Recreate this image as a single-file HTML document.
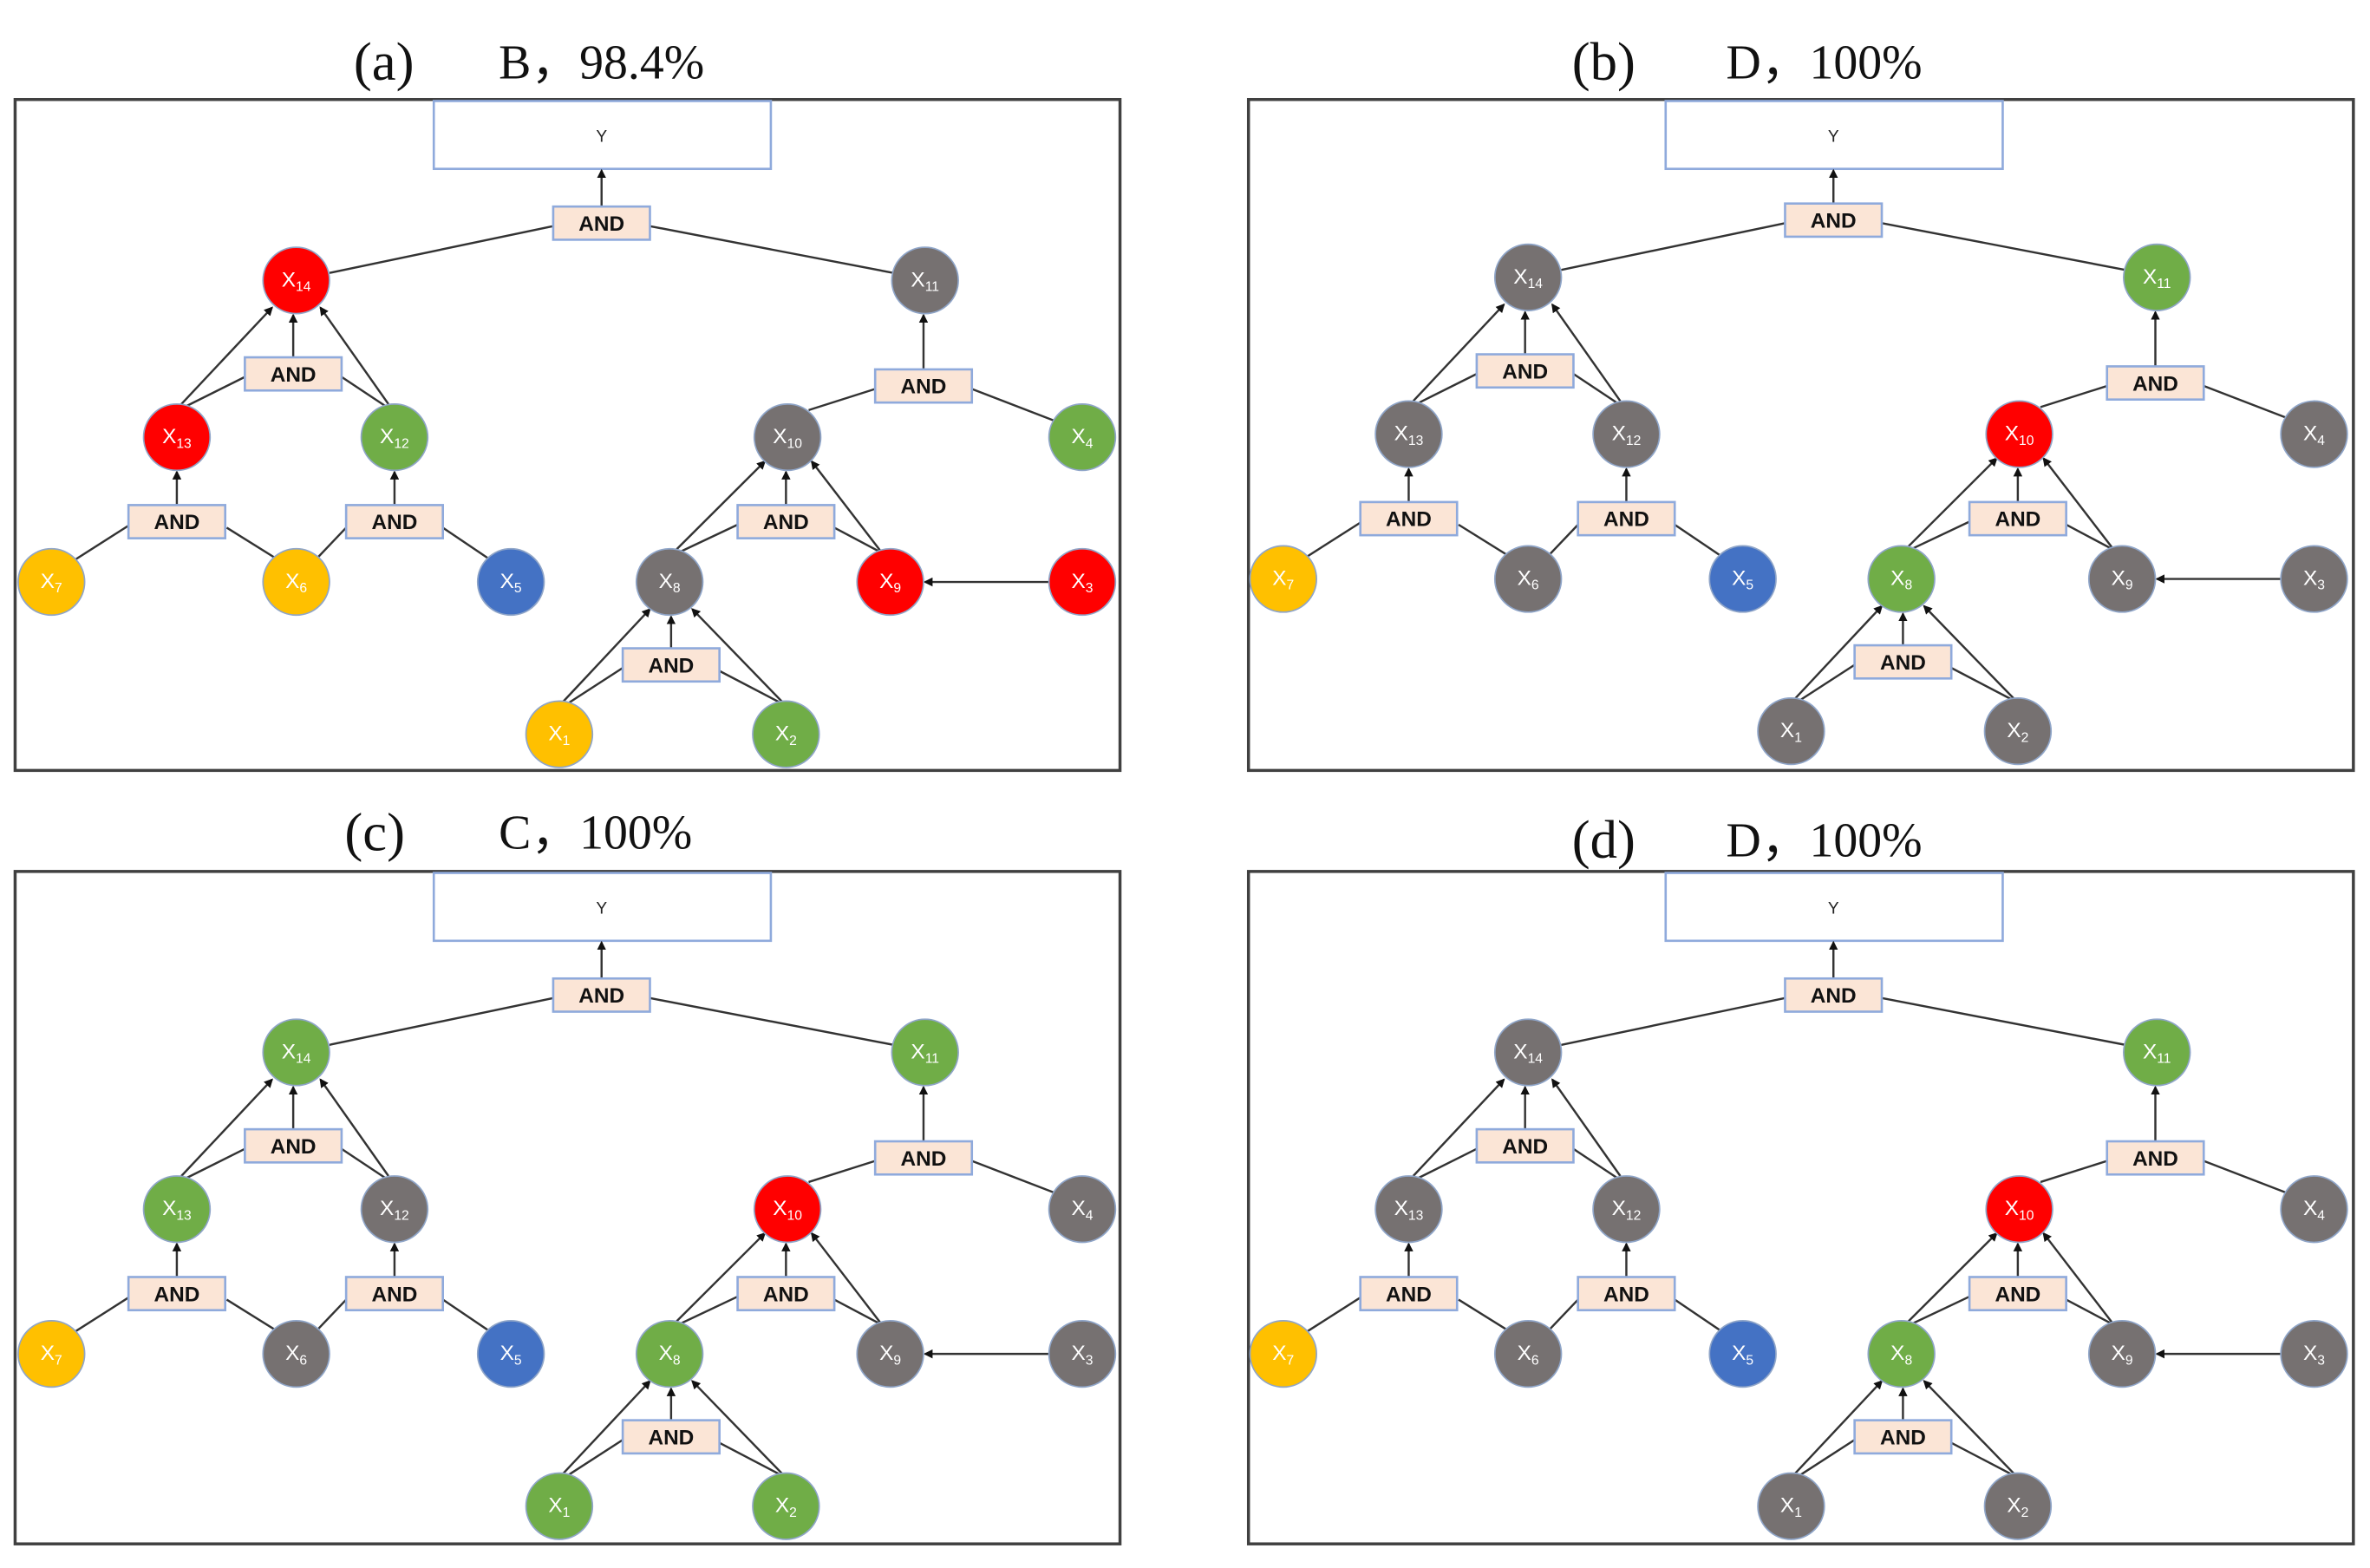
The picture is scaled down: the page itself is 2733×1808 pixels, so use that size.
<!DOCTYPE html>
<html><head><meta charset="utf-8"><style>
html,body{margin:0;padding:0;background:#fff;width:2733px;height:1808px;overflow:hidden}
svg{display:block}
.fr{fill:none;stroke:#404040;stroke-width:2}
.yb{fill:#fff;stroke:#8faadc;stroke-width:1.5}
.ab{fill:#fbe5d6;stroke:#8faadc;stroke-width:1.5}
.at{font:bold 14px "Liberation Sans",sans-serif;fill:#111;text-anchor:middle}
.yt{font:11px "Liberation Sans",sans-serif;fill:#222;text-anchor:middle}
.ln{stroke:#333;stroke-width:1.4;fill:none}
.ar{stroke:#333;stroke-width:1.4;fill:none;marker-end:url(#m)}
.r{fill:#ff0000}.g{fill:#767171}.gr{fill:#70ad47}.y{fill:#ffc000}.b{fill:#4472c4}
circle{stroke:#8fa5c8;stroke-width:1}
.nt{font:14px "Liberation Sans",sans-serif;fill:#fff;text-anchor:middle}
.nt tspan{font-size:9px}
.tt{font:36px "Liberation Serif",serif;fill:#111}
.ts{font:32px "Liberation Serif",serif;fill:#111}
</style></head><body>
<svg width="2733" height="1808" viewBox="0 0 1568 1040" preserveAspectRatio="none" xmlns="http://www.w3.org/2000/svg">
<defs><marker id="m" markerWidth="6" markerHeight="6" refX="5" refY="3" orient="auto" markerUnits="userSpaceOnUse"><path d="M0,0 L6,3 L0,6 z" fill="#111"/></marker></defs>

<text class="tt" x="234" y="53">(a)</text><text class="ts" x="330" y="52">B，98.4%</text>
<text class="tt" x="1040" y="53">(b)</text><text class="ts" x="1142" y="52">D，100%</text>
<text class="tt" x="228" y="564">(c)</text><text class="ts" x="330" y="563">C，100%</text>
<text class="tt" x="1040" y="569">(d)</text><text class="ts" x="1142" y="568">D，100%</text>

<g transform="translate(0,0)">
<rect class="fr" x="10" y="66" width="731" height="445"/>
<rect class="yb" x="287" y="67" width="223" height="45"/><text class="yt" x="398" y="94">Y</text>
<line class="ln" x1="218" y1="181" x2="366" y2="150"/><line class="ln" x1="430" y1="150" x2="591" y2="181"/>
<line class="ln" x1="162" y1="250" x2="122" y2="270"/><line class="ln" x1="226" y1="250" x2="256" y2="270"/>
<line class="ln" x1="50" y1="371" x2="86" y2="348"/><line class="ln" x1="150" y1="350" x2="182" y2="370"/>
<line class="ln" x1="229" y1="350" x2="210" y2="370"/><line class="ln" x1="293" y1="350" x2="324" y2="371"/>
<line class="ln" x1="579" y1="258" x2="535" y2="272"/><line class="ln" x1="643" y1="258" x2="700" y2="280"/>
<line class="ln" x1="488" y1="348" x2="450" y2="366"/><line class="ln" x1="552" y1="350" x2="584" y2="367"/>
<line class="ln" x1="412" y1="443" x2="375" y2="467"/><line class="ln" x1="476" y1="445" x2="518" y2="467"/>
<line class="ar" x1="398" y1="137" x2="398" y2="113"/><line class="ar" x1="194" y1="237" x2="194" y2="209"/>
<line class="ar" x1="120" y1="268" x2="180" y2="204"/><line class="ar" x1="257" y1="268" x2="212" y2="204"/>
<line class="ar" x1="117" y1="335" x2="117" y2="313"/><line class="ar" x1="261" y1="335" x2="261" y2="313"/>
<line class="ar" x1="611" y1="245" x2="611" y2="209"/><line class="ar" x1="520" y1="335" x2="520" y2="313"/>
<line class="ar" x1="446" y1="366" x2="506" y2="306"/><line class="ar" x1="583" y1="366" x2="537" y2="306"/>
<line class="ar" x1="694" y1="386" x2="612" y2="386"/><line class="ar" x1="444" y1="430" x2="444" y2="409"/>
<line class="ar" x1="372" y1="466" x2="430" y2="404"/><line class="ar" x1="518" y1="466" x2="458" y2="404"/>
<rect class="ab" x="366" y="137" width="64" height="22"/><text class="at" x="398" y="153">AND</text>
<rect class="ab" x="162" y="237" width="64" height="22"/><text class="at" x="194" y="253">AND</text>
<rect class="ab" x="579" y="245" width="64" height="22"/><text class="at" x="611" y="261">AND</text>
<rect class="ab" x="85" y="335" width="64" height="22"/><text class="at" x="117" y="351">AND</text>
<rect class="ab" x="229" y="335" width="64" height="22"/><text class="at" x="261" y="351">AND</text>
<rect class="ab" x="488" y="335" width="64" height="22"/><text class="at" x="520" y="351">AND</text>
<rect class="ab" x="412" y="430" width="64" height="22"/><text class="at" x="444" y="446">AND</text>
<circle class="r" cx="196" cy="186" r="22"/><text class="nt" x="196" y="190">X<tspan dy="3">14</tspan></text>
<circle class="g" cx="612" cy="186" r="22"/><text class="nt" x="612" y="190">X<tspan dy="3">11</tspan></text>
<circle class="r" cx="117" cy="290" r="22"/><text class="nt" x="117" y="294">X<tspan dy="3">13</tspan></text>
<circle class="gr" cx="261" cy="290" r="22"/><text class="nt" x="261" y="294">X<tspan dy="3">12</tspan></text>
<circle class="g" cx="521" cy="290" r="22"/><text class="nt" x="521" y="294">X<tspan dy="3">10</tspan></text>
<circle class="gr" cx="716" cy="290" r="22"/><text class="nt" x="716" y="294">X<tspan dy="3">4</tspan></text>
<circle class="y" cx="34" cy="386" r="22"/><text class="nt" x="34" y="390">X<tspan dy="3">7</tspan></text>
<circle class="y" cx="196" cy="386" r="22"/><text class="nt" x="196" y="390">X<tspan dy="3">6</tspan></text>
<circle class="b" cx="338" cy="386" r="22"/><text class="nt" x="338" y="390">X<tspan dy="3">5</tspan></text>
<circle class="g" cx="443" cy="386" r="22"/><text class="nt" x="443" y="390">X<tspan dy="3">8</tspan></text>
<circle class="r" cx="589" cy="386" r="22"/><text class="nt" x="589" y="390">X<tspan dy="3">9</tspan></text>
<circle class="r" cx="716" cy="386" r="22"/><text class="nt" x="716" y="390">X<tspan dy="3">3</tspan></text>
<circle class="y" cx="370" cy="487" r="22"/><text class="nt" x="370" y="491">X<tspan dy="3">1</tspan></text>
<circle class="gr" cx="520" cy="487" r="22"/><text class="nt" x="520" y="491">X<tspan dy="3">2</tspan></text>
</g>

<g transform="translate(815,-2)">
<rect class="fr" x="11" y="68" width="731" height="445"/>
<rect class="yb" x="287" y="69" width="223" height="45"/><text class="yt" x="398" y="96">Y</text>
<line class="ln" x1="218" y1="181" x2="366" y2="150"/><line class="ln" x1="430" y1="150" x2="591" y2="181"/>
<line class="ln" x1="162" y1="250" x2="122" y2="270"/><line class="ln" x1="226" y1="250" x2="256" y2="270"/>
<line class="ln" x1="50" y1="371" x2="86" y2="348"/><line class="ln" x1="150" y1="350" x2="182" y2="370"/>
<line class="ln" x1="229" y1="350" x2="210" y2="370"/><line class="ln" x1="293" y1="350" x2="324" y2="371"/>
<line class="ln" x1="579" y1="258" x2="535" y2="272"/><line class="ln" x1="643" y1="258" x2="700" y2="280"/>
<line class="ln" x1="488" y1="348" x2="450" y2="366"/><line class="ln" x1="552" y1="350" x2="584" y2="367"/>
<line class="ln" x1="412" y1="443" x2="375" y2="467"/><line class="ln" x1="476" y1="445" x2="518" y2="467"/>
<line class="ar" x1="398" y1="137" x2="398" y2="115"/><line class="ar" x1="194" y1="237" x2="194" y2="209"/>
<line class="ar" x1="120" y1="268" x2="180" y2="204"/><line class="ar" x1="257" y1="268" x2="212" y2="204"/>
<line class="ar" x1="117" y1="335" x2="117" y2="313"/><line class="ar" x1="261" y1="335" x2="261" y2="313"/>
<line class="ar" x1="611" y1="245" x2="611" y2="209"/><line class="ar" x1="520" y1="335" x2="520" y2="313"/>
<line class="ar" x1="446" y1="366" x2="506" y2="306"/><line class="ar" x1="583" y1="366" x2="537" y2="306"/>
<line class="ar" x1="694" y1="386" x2="612" y2="386"/><line class="ar" x1="444" y1="430" x2="444" y2="409"/>
<line class="ar" x1="372" y1="466" x2="430" y2="404"/><line class="ar" x1="518" y1="466" x2="458" y2="404"/>
<rect class="ab" x="366" y="137" width="64" height="22"/><text class="at" x="398" y="153">AND</text>
<rect class="ab" x="162" y="237" width="64" height="22"/><text class="at" x="194" y="253">AND</text>
<rect class="ab" x="579" y="245" width="64" height="22"/><text class="at" x="611" y="261">AND</text>
<rect class="ab" x="85" y="335" width="64" height="22"/><text class="at" x="117" y="351">AND</text>
<rect class="ab" x="229" y="335" width="64" height="22"/><text class="at" x="261" y="351">AND</text>
<rect class="ab" x="488" y="335" width="64" height="22"/><text class="at" x="520" y="351">AND</text>
<rect class="ab" x="412" y="430" width="64" height="22"/><text class="at" x="444" y="446">AND</text>
<circle class="g" cx="196" cy="186" r="22"/><text class="nt" x="196" y="190">X<tspan dy="3">14</tspan></text>
<circle class="gr" cx="612" cy="186" r="22"/><text class="nt" x="612" y="190">X<tspan dy="3">11</tspan></text>
<circle class="g" cx="117" cy="290" r="22"/><text class="nt" x="117" y="294">X<tspan dy="3">13</tspan></text>
<circle class="g" cx="261" cy="290" r="22"/><text class="nt" x="261" y="294">X<tspan dy="3">12</tspan></text>
<circle class="r" cx="521" cy="290" r="22"/><text class="nt" x="521" y="294">X<tspan dy="3">10</tspan></text>
<circle class="g" cx="716" cy="290" r="22"/><text class="nt" x="716" y="294">X<tspan dy="3">4</tspan></text>
<circle class="y" cx="34" cy="386" r="22"/><text class="nt" x="34" y="390">X<tspan dy="3">7</tspan></text>
<circle class="g" cx="196" cy="386" r="22"/><text class="nt" x="196" y="390">X<tspan dy="3">6</tspan></text>
<circle class="b" cx="338" cy="386" r="22"/><text class="nt" x="338" y="390">X<tspan dy="3">5</tspan></text>
<circle class="gr" cx="443" cy="386" r="22"/><text class="nt" x="443" y="390">X<tspan dy="3">8</tspan></text>
<circle class="g" cx="589" cy="386" r="22"/><text class="nt" x="589" y="390">X<tspan dy="3">9</tspan></text>
<circle class="g" cx="716" cy="386" r="22"/><text class="nt" x="716" y="390">X<tspan dy="3">3</tspan></text>
<circle class="g" cx="370" cy="487" r="22"/><text class="nt" x="370" y="491">X<tspan dy="3">1</tspan></text>
<circle class="g" cx="520" cy="487" r="22"/><text class="nt" x="520" y="491">X<tspan dy="3">2</tspan></text>
</g>

<g transform="translate(0,512)">
<rect class="fr" x="10" y="66" width="731" height="446"/>
<rect class="yb" x="287" y="67" width="223" height="45"/><text class="yt" x="398" y="94">Y</text>
<line class="ln" x1="218" y1="181" x2="366" y2="150"/><line class="ln" x1="430" y1="150" x2="591" y2="181"/>
<line class="ln" x1="162" y1="250" x2="122" y2="270"/><line class="ln" x1="226" y1="250" x2="256" y2="270"/>
<line class="ln" x1="50" y1="371" x2="86" y2="348"/><line class="ln" x1="150" y1="350" x2="182" y2="370"/>
<line class="ln" x1="229" y1="350" x2="210" y2="370"/><line class="ln" x1="293" y1="350" x2="324" y2="371"/>
<line class="ln" x1="579" y1="258" x2="535" y2="272"/><line class="ln" x1="643" y1="258" x2="700" y2="280"/>
<line class="ln" x1="488" y1="348" x2="450" y2="366"/><line class="ln" x1="552" y1="350" x2="584" y2="367"/>
<line class="ln" x1="412" y1="443" x2="375" y2="467"/><line class="ln" x1="476" y1="445" x2="518" y2="467"/>
<line class="ar" x1="398" y1="137" x2="398" y2="113"/><line class="ar" x1="194" y1="237" x2="194" y2="209"/>
<line class="ar" x1="120" y1="268" x2="180" y2="204"/><line class="ar" x1="257" y1="268" x2="212" y2="204"/>
<line class="ar" x1="117" y1="335" x2="117" y2="313"/><line class="ar" x1="261" y1="335" x2="261" y2="313"/>
<line class="ar" x1="611" y1="245" x2="611" y2="209"/><line class="ar" x1="520" y1="335" x2="520" y2="313"/>
<line class="ar" x1="446" y1="366" x2="506" y2="306"/><line class="ar" x1="583" y1="366" x2="537" y2="306"/>
<line class="ar" x1="694" y1="386" x2="612" y2="386"/><line class="ar" x1="444" y1="430" x2="444" y2="409"/>
<line class="ar" x1="372" y1="466" x2="430" y2="404"/><line class="ar" x1="518" y1="466" x2="458" y2="404"/>
<rect class="ab" x="366" y="137" width="64" height="22"/><text class="at" x="398" y="153">AND</text>
<rect class="ab" x="162" y="237" width="64" height="22"/><text class="at" x="194" y="253">AND</text>
<rect class="ab" x="579" y="245" width="64" height="22"/><text class="at" x="611" y="261">AND</text>
<rect class="ab" x="85" y="335" width="64" height="22"/><text class="at" x="117" y="351">AND</text>
<rect class="ab" x="229" y="335" width="64" height="22"/><text class="at" x="261" y="351">AND</text>
<rect class="ab" x="488" y="335" width="64" height="22"/><text class="at" x="520" y="351">AND</text>
<rect class="ab" x="412" y="430" width="64" height="22"/><text class="at" x="444" y="446">AND</text>
<circle class="gr" cx="196" cy="186" r="22"/><text class="nt" x="196" y="190">X<tspan dy="3">14</tspan></text>
<circle class="gr" cx="612" cy="186" r="22"/><text class="nt" x="612" y="190">X<tspan dy="3">11</tspan></text>
<circle class="gr" cx="117" cy="290" r="22"/><text class="nt" x="117" y="294">X<tspan dy="3">13</tspan></text>
<circle class="g" cx="261" cy="290" r="22"/><text class="nt" x="261" y="294">X<tspan dy="3">12</tspan></text>
<circle class="r" cx="521" cy="290" r="22"/><text class="nt" x="521" y="294">X<tspan dy="3">10</tspan></text>
<circle class="g" cx="716" cy="290" r="22"/><text class="nt" x="716" y="294">X<tspan dy="3">4</tspan></text>
<circle class="y" cx="34" cy="386" r="22"/><text class="nt" x="34" y="390">X<tspan dy="3">7</tspan></text>
<circle class="g" cx="196" cy="386" r="22"/><text class="nt" x="196" y="390">X<tspan dy="3">6</tspan></text>
<circle class="b" cx="338" cy="386" r="22"/><text class="nt" x="338" y="390">X<tspan dy="3">5</tspan></text>
<circle class="gr" cx="443" cy="386" r="22"/><text class="nt" x="443" y="390">X<tspan dy="3">8</tspan></text>
<circle class="g" cx="589" cy="386" r="22"/><text class="nt" x="589" y="390">X<tspan dy="3">9</tspan></text>
<circle class="g" cx="716" cy="386" r="22"/><text class="nt" x="716" y="390">X<tspan dy="3">3</tspan></text>
<circle class="gr" cx="370" cy="487" r="22"/><text class="nt" x="370" y="491">X<tspan dy="3">1</tspan></text>
<circle class="gr" cx="520" cy="487" r="22"/><text class="nt" x="520" y="491">X<tspan dy="3">2</tspan></text>
</g>

<g transform="translate(815,512)">
<rect class="fr" x="11" y="66" width="731" height="446"/>
<rect class="yb" x="287" y="67" width="223" height="45"/><text class="yt" x="398" y="94">Y</text>
<line class="ln" x1="218" y1="181" x2="366" y2="150"/><line class="ln" x1="430" y1="150" x2="591" y2="181"/>
<line class="ln" x1="162" y1="250" x2="122" y2="270"/><line class="ln" x1="226" y1="250" x2="256" y2="270"/>
<line class="ln" x1="50" y1="371" x2="86" y2="348"/><line class="ln" x1="150" y1="350" x2="182" y2="370"/>
<line class="ln" x1="229" y1="350" x2="210" y2="370"/><line class="ln" x1="293" y1="350" x2="324" y2="371"/>
<line class="ln" x1="579" y1="258" x2="535" y2="272"/><line class="ln" x1="643" y1="258" x2="700" y2="280"/>
<line class="ln" x1="488" y1="348" x2="450" y2="366"/><line class="ln" x1="552" y1="350" x2="584" y2="367"/>
<line class="ln" x1="412" y1="443" x2="375" y2="467"/><line class="ln" x1="476" y1="445" x2="518" y2="467"/>
<line class="ar" x1="398" y1="137" x2="398" y2="113"/><line class="ar" x1="194" y1="237" x2="194" y2="209"/>
<line class="ar" x1="120" y1="268" x2="180" y2="204"/><line class="ar" x1="257" y1="268" x2="212" y2="204"/>
<line class="ar" x1="117" y1="335" x2="117" y2="313"/><line class="ar" x1="261" y1="335" x2="261" y2="313"/>
<line class="ar" x1="611" y1="245" x2="611" y2="209"/><line class="ar" x1="520" y1="335" x2="520" y2="313"/>
<line class="ar" x1="446" y1="366" x2="506" y2="306"/><line class="ar" x1="583" y1="366" x2="537" y2="306"/>
<line class="ar" x1="694" y1="386" x2="612" y2="386"/><line class="ar" x1="444" y1="430" x2="444" y2="409"/>
<line class="ar" x1="372" y1="466" x2="430" y2="404"/><line class="ar" x1="518" y1="466" x2="458" y2="404"/>
<rect class="ab" x="366" y="137" width="64" height="22"/><text class="at" x="398" y="153">AND</text>
<rect class="ab" x="162" y="237" width="64" height="22"/><text class="at" x="194" y="253">AND</text>
<rect class="ab" x="579" y="245" width="64" height="22"/><text class="at" x="611" y="261">AND</text>
<rect class="ab" x="85" y="335" width="64" height="22"/><text class="at" x="117" y="351">AND</text>
<rect class="ab" x="229" y="335" width="64" height="22"/><text class="at" x="261" y="351">AND</text>
<rect class="ab" x="488" y="335" width="64" height="22"/><text class="at" x="520" y="351">AND</text>
<rect class="ab" x="412" y="430" width="64" height="22"/><text class="at" x="444" y="446">AND</text>
<circle class="g" cx="196" cy="186" r="22"/><text class="nt" x="196" y="190">X<tspan dy="3">14</tspan></text>
<circle class="gr" cx="612" cy="186" r="22"/><text class="nt" x="612" y="190">X<tspan dy="3">11</tspan></text>
<circle class="g" cx="117" cy="290" r="22"/><text class="nt" x="117" y="294">X<tspan dy="3">13</tspan></text>
<circle class="g" cx="261" cy="290" r="22"/><text class="nt" x="261" y="294">X<tspan dy="3">12</tspan></text>
<circle class="r" cx="521" cy="290" r="22"/><text class="nt" x="521" y="294">X<tspan dy="3">10</tspan></text>
<circle class="g" cx="716" cy="290" r="22"/><text class="nt" x="716" y="294">X<tspan dy="3">4</tspan></text>
<circle class="y" cx="34" cy="386" r="22"/><text class="nt" x="34" y="390">X<tspan dy="3">7</tspan></text>
<circle class="g" cx="196" cy="386" r="22"/><text class="nt" x="196" y="390">X<tspan dy="3">6</tspan></text>
<circle class="b" cx="338" cy="386" r="22"/><text class="nt" x="338" y="390">X<tspan dy="3">5</tspan></text>
<circle class="gr" cx="443" cy="386" r="22"/><text class="nt" x="443" y="390">X<tspan dy="3">8</tspan></text>
<circle class="g" cx="589" cy="386" r="22"/><text class="nt" x="589" y="390">X<tspan dy="3">9</tspan></text>
<circle class="g" cx="716" cy="386" r="22"/><text class="nt" x="716" y="390">X<tspan dy="3">3</tspan></text>
<circle class="g" cx="370" cy="487" r="22"/><text class="nt" x="370" y="491">X<tspan dy="3">1</tspan></text>
<circle class="g" cx="520" cy="487" r="22"/><text class="nt" x="520" y="491">X<tspan dy="3">2</tspan></text>
</g>
</svg>
</body></html>
